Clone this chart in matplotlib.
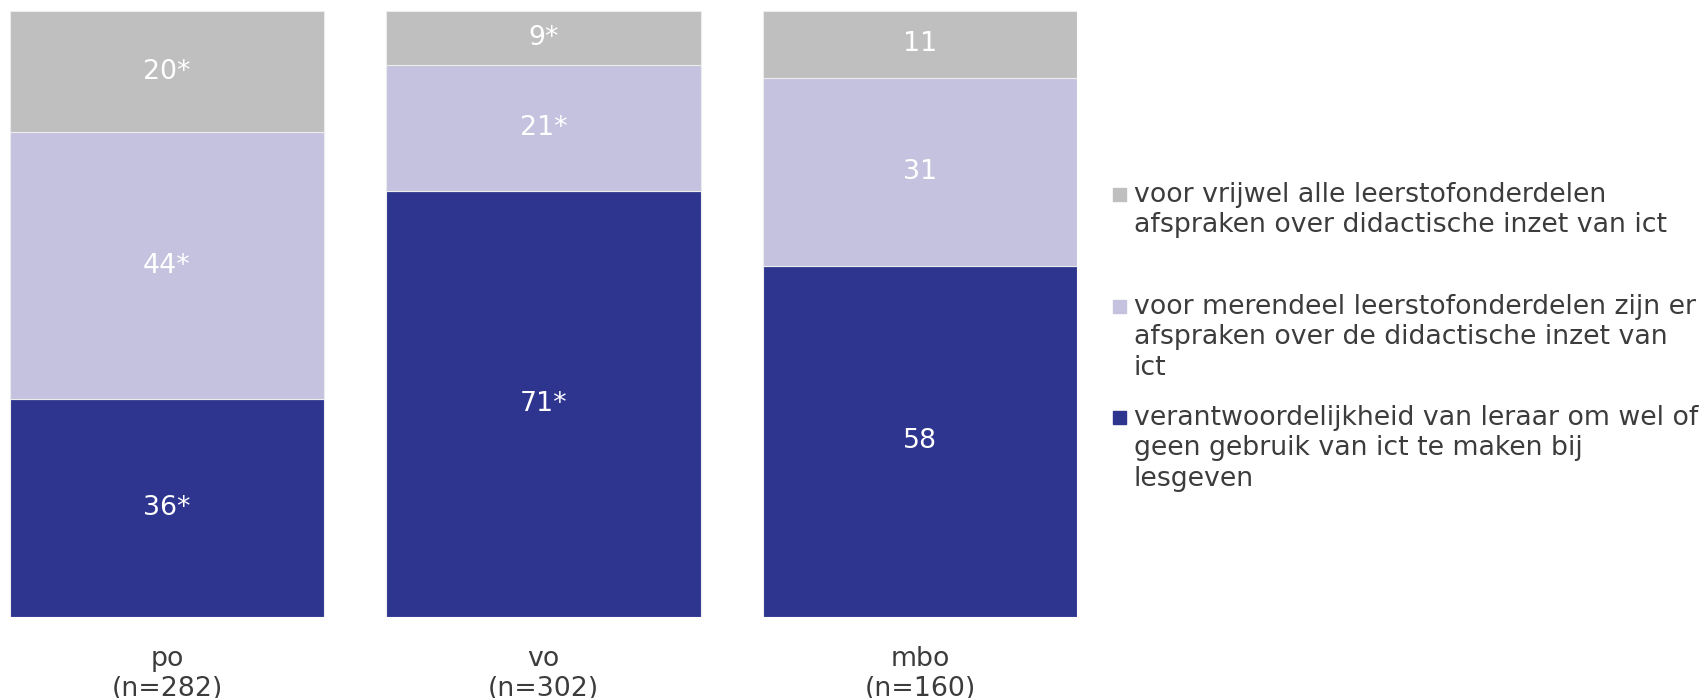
import numpy as np
from matplotlib import pyplot as plt
from matplotlib.patches import Rectangle

categories = ["po\n(n=282)", "vo\n(n=302)", "mbo\n(n=160)"]
series_names = [
    "verantwoordelijkheid van leraar om wel of\ngeen gebruik van ict te maken bij\nlesgeven",
    "voor merendeel leerstofonderdelen zijn er\nafspraken over de didactische inzet van\nict",
    "voor vrijwel alle leerstofonderdelen\nafspraken over didactische inzet van ict",
]
eigen = [36, 71, 58]
merendeel = [44, 21, 31]
vrijwel = [20, 9, 11]
labels_eigen = ["36*", "71*", "58"]
labels_merendeel = ["44*", "21*", "31"]
labels_vrijwel = ["20*", "9*", "11"]

colors = ["#2E358F", "#C4C2DE", "#BFBFBF"]
TEXT = "#3c3c3c"

W, H = 1708, 698
fig = plt.figure(figsize=(W / 100, H / 100), dpi=100)
plt.rcParams['font.family'] = ['DejaVu Sans']

# axes placed in pixels: bars from x=10 to 1077, y=11 to 617
ax = fig.add_axes([10 / W, (H - 617) / H, (1077 - 10) / W, (617 - 11) / H])

raw = np.array([eigen, merendeel, vrijwel], dtype=float)
share = raw / raw.sum(axis=0) * 100  # 100% stacked
texts = [labels_eigen, labels_merendeel, labels_vrijwel]

x = np.arange(len(categories))
bottom = np.zeros(len(categories))
for i in range(3):
    bars = ax.bar(x, share[i], 0.834, bottom=bottom, color=colors[i],
                  edgecolor="#ececec", linewidth=0.8)
    ax.bar_label(bars, labels=texts[i], label_type="center",
                 color="white", fontsize=19.3)
    bottom += share[i]

ax.set_xlim(-0.417, 2.417)
ax.set_ylim(0, 100)
ax.set_yticks([])
ax.set_xticks(x)
ax.set_xticklabels(categories, fontsize=19.3, color=TEXT, linespacing=1.2)
ax.tick_params(axis="x", length=0, pad=21)
for s in ax.spines.values():
    s.set_visible(False)

# legend, drawn by hand so each entry starts at its first line
leg_x = 1113
leg_tops = [182, 294, 405]
order = [2, 1, 0]
for top, k in zip(leg_tops, order):
    fig.patches.append(Rectangle((leg_x / W, 1 - (top + 19) / H), 13 / W, 13 / H,
                                 transform=fig.transFigure, color=colors[k]))
    fig.text((leg_x + 21) / W, 1 - top / H, series_names[k], fontsize=19.3,
             color=TEXT, va="top", ha="left", linespacing=1.22)

fig.savefig("out.png", dpi=100)
